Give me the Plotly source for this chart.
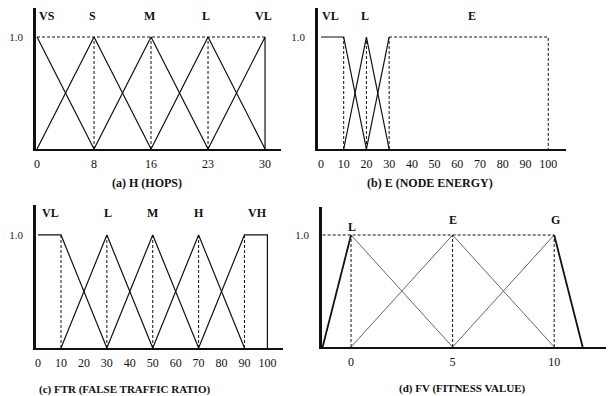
import plotly.graph_objects as go

# ---------------- data ----------------
# (a) hops: equally spaced breakpoints
hops_ticks = [0, 8, 16, 23, 30]
hops_sets = ["VS", "S", "M", "L", "VL"]

# (b) node energy
energy_ticks = [0, 10, 20, 30, 40, 50, 60, 70, 80, 90, 100]
energy_vl_x = [0, 10, 20]
energy_vl_y = [1, 1, 0]
energy_l_x = [10, 20, 30]
energy_l_y = [0, 1, 0]
energy_e_x = [20, 30]
energy_e_y = [0, 1]
energy_e_plateau_x = [30, 100, 100]
energy_e_plateau_y = [1, 1, 0]
energy_sets = ["VL", "L", "E"]

# (c) false traffic ratio
ftr_ticks = [0, 10, 20, 30, 40, 50, 60, 70, 80, 90, 100]
ftr_vl_x = [0, 10, 30]
ftr_vl_y = [1, 1, 0]
ftr_l_x = [10, 30, 50]
ftr_l_y = [0, 1, 0]
ftr_m_x = [30, 50, 70]
ftr_m_y = [0, 1, 0]
ftr_h_x = [50, 70, 90]
ftr_h_y = [0, 1, 0]
ftr_vh_x = [70, 90, 100, 100]
ftr_vh_y = [0, 1, 1, 0]
ftr_sets = ["VL", "L", "M", "H", "VH"]

# (d) fitness value
fv_ticks = [0, 5, 10]
fv_l_x = [-1.4, 0, 5]
fv_l_y = [0, 1, 0]
fv_e_x = [0, 5, 10]
fv_e_y = [0, 1, 0]
fv_g_x = [5, 10, 11.4]
fv_g_y = [0, 1, 0]
fv_sets = ["L", "E", "G"]

captions = ["(a) H (HOPS)", "(b) E (NODE ENERGY)",
            "(c) FTR (FALSE TRAFFIC RATIO)", "(d) FV (FITNESS VALUE)"]

# ---------------- layout helpers ----------------
W, H = 610, 396
FONT = "Liberation Serif, Times New Roman, serif"
fig = go.Figure()

def px_x(p):
    return p / W

def px_y(p):
    return 1 - p / H

SOLID = dict(color="#111", width=1.2)
THIN = dict(color="#555", width=0.9)
DASH = dict(color="#111", width=1, dash="3px,2px")

def add(x, y, ax, line):
    fig.add_trace(go.Scatter(x=x, y=y, mode="lines", line=line,
                             xaxis="x" + ax, yaxis="y" + ax,
                             showlegend=False, hoverinfo="skip"))

# ---- (a) ----
idx = list(range(len(hops_ticks)))
add([0, 1], [1, 0], "", SOLID)
for i in range(1, len(idx) - 1):
    add([idx[i - 1], idx[i], idx[i + 1]], [0, 1, 0], "", SOLID)
add([idx[-2], idx[-1], idx[-1]], [0, 1, 0], "", SOLID)
add([idx[0], idx[-1]], [1, 1], "", DASH)
for i in idx[1:-1]:
    add([i, i], [0, 1], "", DASH)

# ---- (b) ----
add(energy_vl_x, energy_vl_y, "2", SOLID)
add(energy_l_x, energy_l_y, "2", SOLID)
add(energy_e_x, energy_e_y, "2", SOLID)
add(energy_e_plateau_x, energy_e_plateau_y, "2", DASH)
for v in [10, 20, 30]:
    add([v, v], [0, 1], "2", DASH)

# ---- (c) ----
for xs, ys in [(ftr_vl_x, ftr_vl_y), (ftr_l_x, ftr_l_y), (ftr_m_x, ftr_m_y),
               (ftr_h_x, ftr_h_y), (ftr_vh_x, ftr_vh_y)]:
    add(xs, ys, "3", SOLID)
for v in [10, 30, 50, 70, 90]:
    add([v, v], [0, 1], "3", DASH)

# ---- (d) ----
add(fv_l_x[:2], fv_l_y[:2], "4", dict(color="#111", width=1.8))
add(fv_l_x[1:], fv_l_y[1:], "4", THIN)
add(fv_e_x, fv_e_y, "4", THIN)
add(fv_g_x[:2], fv_g_y[:2], "4", THIN)
add(fv_g_x[1:], fv_g_y[1:], "4", dict(color="#111", width=1.8))
add([fv_l_x[0], fv_g_x[1]], [1, 1], "4", DASH)
for v in fv_ticks:
    add([v, v], [0, 1], "4", DASH)

# ---- axes ----
panels = {
    "": dict(xd=(36, 281), yd=(149, 8), xr=(-0.018, 4.28), yr=(0, 1.259),
             tv=idx, tt=[str(t) for t in hops_ticks]),
    "2": dict(xd=(318, 566), yd=(149, 8), xr=(-1.3, 107.8), yr=(0, 1.259),
              tv=energy_ticks, tt=[str(t) for t in energy_ticks]),
    "3": dict(xd=(36, 283), yd=(348, 205), xr=(-0.9, 106.8), yr=(0, 1.265),
              tv=ftr_ticks, tt=[str(t) for t in ftr_ticks]),
    "4": dict(xd=(322, 606), yd=(347, 207), xr=(-1.43, 12.55), yr=(0, 1.25),
              tv=fv_ticks, tt=[str(t) for t in fv_ticks]),
}
for k, p in panels.items():
    xa = dict(domain=[px_x(p["xd"][0]), px_x(p["xd"][1])], range=list(p["xr"]),
              anchor="y" + k, showgrid=False, zeroline=False, showline=True,
              automargin=False, fixedrange=True,
              linecolor="#111", linewidth=2, tickmode="array", tickvals=p["tv"],
              ticktext=p["tt"], ticks="outside", ticklen=3,
              tickcolor="rgba(0,0,0,0)",
              tickfont=dict(family=FONT, size=12, color="#111"))
    ya = dict(domain=[px_y(p["yd"][0]), px_y(p["yd"][1])], range=list(p["yr"]),
              anchor="x" + k, showgrid=False, zeroline=False, showline=True,
              automargin=False, fixedrange=True,
              linecolor="#111", linewidth=2.5, tickmode="array", tickvals=[1],
              ticktext=["1.0"], ticks="outside", ticklen=8,
              tickcolor="rgba(0,0,0,0)",
              tickfont=dict(family=FONT, size=11, color="#222"))
    fig.update_layout(**{"xaxis" + k: xa, "yaxis" + k: ya})

# ---- set labels ----
ann = []
def lab(text, x, y, ax):
    ann.append(dict(text="<b>%s</b>" % text, x=x, y=y, xref="x" + ax,
                    yref="y" + ax, showarrow=False, xanchor="center",
                    font=dict(family=FONT, size=12, color="#111")))

lab(hops_sets[0], 0.18, 1.19, "")
for i, s in enumerate(hops_sets[1:], start=1):
    lab(s, idx[i] - 0.03, 1.19, "")
for s, x in zip(energy_sets, [4.2, 19.4, 66.5]):
    lab(s, x, 1.19, "2")
for s, x in zip(ftr_sets, [5.3, 30.6, 49.8, 70, 95.6]):
    lab(s, x, 1.19, "3")
for s, x, y in zip(fv_sets, [0.05, 5, 10.05], [1.07, 1.13, 1.13]):
    lab(s, x, y, "4")

# ---- captions ----
for text, cx, cy, fs in zip(captions, [147, 430, 124, 462], [183, 183, 389, 388],
                            [12, 12, 11, 11]):
    ann.append(dict(text="<b>%s</b>" % text, x=px_x(cx), y=px_y(cy),
                    xref="paper", yref="paper", showarrow=False,
                    xanchor="center", yanchor="middle",
                    font=dict(family=FONT, size=fs, color="#111")))

fig.update_layout(width=W, height=H, margin=dict(l=0, r=0, t=0, b=0),
                  paper_bgcolor="white", plot_bgcolor="white",
                  annotations=ann, showlegend=False, hovermode=False)
fig.write_html("out.html", config={"displayModeBar": False},
               post_script="document.body.style.margin='0';"
                           "document.body.style.overflow='hidden';")
